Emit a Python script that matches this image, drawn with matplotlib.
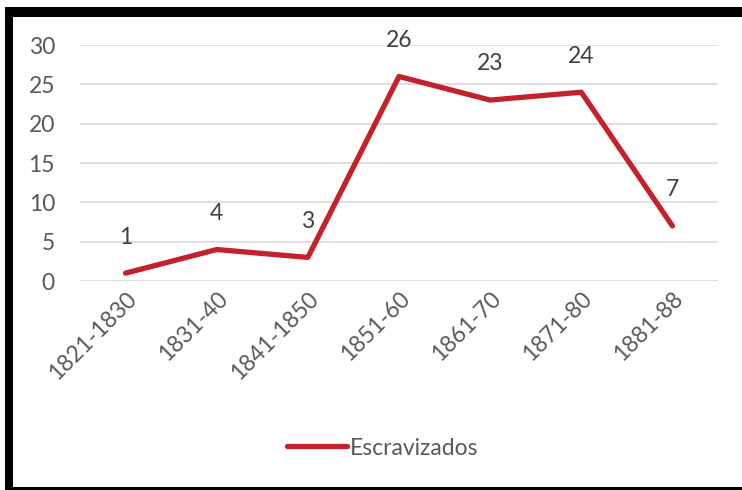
import matplotlib.pyplot as plt
import matplotlib.patches as patches

periodos = ['1821-1830', '1831-40', '1841-1850', '1851-60', '1861-70', '1871-80', '1881-88']
escravizados = [1, 4, 3, 26, 23, 24, 7]

plt.rcParams['font.family'] = ['Lato', 'DejaVu Sans']
cor_linha = '#C4212B'
cor_texto = '#595959'

fig = plt.figure(figsize=(7.42, 4.90), dpi=100)
W, H = 742, 490
ax = fig.add_axes([80 / W, 1 - 281 / H, 638 / W, 236 / H])

x = range(len(periodos))
ax.plot(x, escravizados, color=cor_linha, lw=3.8, solid_capstyle='round',
        solid_joinstyle='round', label='Escravizados', zorder=3)
for xi, v in zip(x, escravizados):
    ax.annotate(str(v), (xi, v), xytext=(0, 26), textcoords='offset points',
                ha='center', va='center', fontsize=16.5, color='#404040')

ax.set_xlim(-0.5, len(periodos) - 0.5)
ax.set_ylim(0, 30)
ax.set_yticks(range(0, 31, 5))
ax.set_xticks(list(x))
ax.set_xticklabels(periodos, rotation=45, ha='right', rotation_mode='anchor')
ax.tick_params(axis='both', length=0, labelsize=16.5, colors=cor_texto)
ax.tick_params(axis='y', pad=18)
ax.tick_params(axis='x', pad=5)
ax.grid(axis='y', color='#D9D9D9', lw=1.2)
ax.set_axisbelow(True)
for s in ax.spines.values():
    s.set_visible(False)

leg = ax.legend(loc='center', bbox_to_anchor=(383 / W, 1 - 448 / H),
                bbox_transform=fig.transFigure, frameon=False, fontsize=16.5,
                handlelength=2.6, handletextpad=0.15)
for t in leg.get_texts():
    t.set_color(cor_texto)

# moldura preta
for (x0, y0, w, h) in [(5, 7, 8, 483), (5, 7, 737, 10), (5, 487, 737, 3)]:
    fig.add_artist(patches.Rectangle((x0 / W, 1 - (y0 + h) / H), w / W, h / H,
                                     transform=fig.transFigure, color='black',
                                     lw=0, zorder=10))

fig.savefig('out.png', dpi=100)
